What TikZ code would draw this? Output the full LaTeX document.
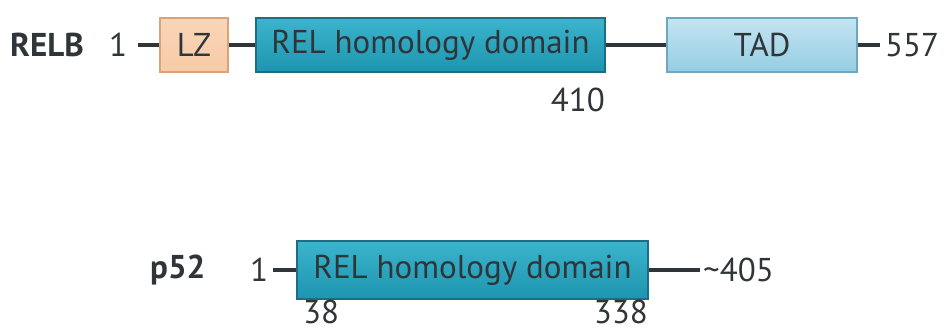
\documentclass[tikz,border=0pt]{standalone}
\usepackage{fontspec}
\setmainfont{PT Sans}
\definecolor{lzfill}{HTML}{F7CBA6}
\definecolor{lzedge}{HTML}{D9A47C}
\definecolor{rhdtop}{HTML}{3BB4CC}
\definecolor{rhdbot}{HTML}{1E95B0}
\definecolor{rhdedge}{HTML}{1A6F85}
\definecolor{tadtop}{HTML}{C3E5F2}
\definecolor{tadbot}{HTML}{96CDE3}
\definecolor{tadedge}{HTML}{6EA7BF}
\definecolor{ink}{HTML}{2F3538}
\begin{document}
\begin{tikzpicture}[x=1pt,y=1pt,
  lbl/.style={font=\fontsize{33}{36}\selectfont, text=ink, inner sep=0pt},
  protname/.style={lbl, font=\fontsize{33}{36}\selectfont\bfseries},
  dom/.style={draw, line width=1.2pt, inner sep=0pt, font=\fontsize{33}{36}\selectfont, text=ink},
  lz/.style={dom, draw=lzedge, top color=lzfill!80!white, bottom color=lzfill},
  rhd/.style={dom, draw=rhdedge, top color=rhdtop, bottom color=rhdbot},
  tad/.style={dom, draw=tadedge, top color=tadtop, bottom color=tadbot},
  conn/.style={draw=ink, line width=3.5pt}]
\useasboundingbox (0,0) rectangle (946,332);
% RELB
\node[protname, anchor=west] (relb) at (10,287) {RELB};
\node[lbl] (r1) at (118,287) {1};
\node[lz, minimum width=68, minimum height=54] (lz) at (194,287) {LZ};
\node[rhd, minimum width=349, minimum height=54] (rhd1) at (430.5,287) {REL homology domain};
\node[tad, minimum width=190, minimum height=54] (tad) at (762,287) {TAD};
\node[lbl, anchor=west] (r557) at (885,287) {557};
\coordinate (r1e) at (138,287);
\coordinate (r557e) at (880,287);
\draw[conn] (r1e) -- (lz.west);
\draw[conn] (lz.east) -- (rhd1.west);
\draw[conn] (rhd1.east) -- (tad.west);
\draw[conn] (tad.east) -- (r557e);
\node[lbl, anchor=east] (n410) at (605,232) {410};
% p52
\node[protname, anchor=west] (p52) at (150,62) {p52};
\node[lbl] (p1) at (259,62) {1};
\node[rhd, minimum width=351, minimum height=58] (rhd2) at (472.5,62) {REL homology domain};
\node[lbl, anchor=west] (p405) at (703,62) {\textasciitilde 405};
\coordinate (p1e) at (273,62);
\coordinate (p405e) at (700,62);
\draw[conn] (p1e) -- (rhd2.west);
\draw[conn] (rhd2.east) -- (p405e);
\node[lbl, anchor=west] (n38) at (303,20) {38};
\node[lbl, anchor=east] (n338) at (648,20) {338};
\end{tikzpicture}
\end{document}
